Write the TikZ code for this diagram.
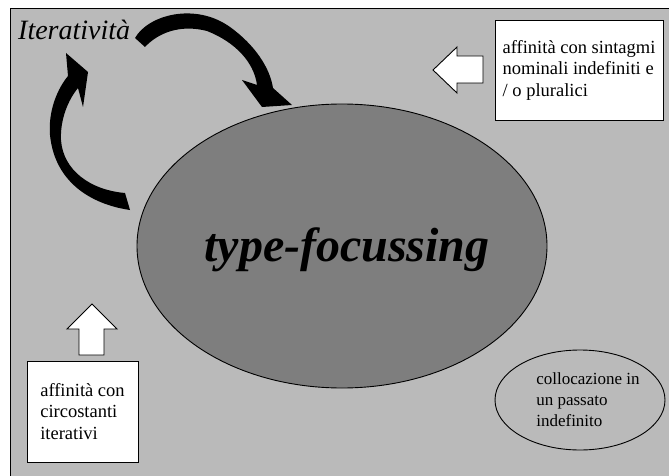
\documentclass[tikz,border=0pt]{standalone}
\usepackage{fontspec}
\setmainfont{Liberation Serif}
\usetikzlibrary{shapes.geometric}
\definecolor{bggray}{RGB}{186,186,186}
\definecolor{ellgray}{RGB}{126,126,126}
\begin{document}
\begin{tikzpicture}[x=1pt,y=-1pt,
			every node/.style = {align=left, inner sep=0pt},
			textbox/.style = {draw, fill=white, line width=0.9pt},
			bigell/.style = {ellipse, draw, line width=0.9pt},
			txt/.style = {font=\fontsize{18.5}{21.5}\selectfont},
			blockarrow/.style = {draw, fill=white, line width=0.9pt, line join=miter}]

			\useasboundingbox (0,0) rectangle (669,476);
			\fill[white] (0,0) rectangle (669,476);
			\filldraw[fill=bggray, line width=0.9pt] (10,8) rectangle (675,482);

			% centre
			\node[bigell, fill=ellgray, minimum width=410pt, minimum height=284pt] (focus) at (342,246) {};
			\node[font=\fontsize{48}{52}\selectfont\bfseries\itshape] (focuslbl) at (347,250) {type-focussing};

			\node[anchor=base west, font=\fontsize{28}{30}\selectfont\itshape] (iter) at (18,40) {Iteratività};

			\node[textbox, txt, minimum width=168pt, minimum height=100pt] (sint) at (579,70)
				{affinità con sintagmi\\nominali indefiniti e\\/ o pluralici};
			\node[textbox, txt, minimum width=111pt, minimum height=101pt] (circ) at (82.5,411.5)
				{affinità con\\circostanti\\iterativi};
			\node[bigell, minimum width=170pt, minimum height=100pt] (pass) at (580,400) {};
			\node[font=\fontsize{17}{21}\selectfont] (passlbl) at ([xshift=8pt]pass.center)
				{collocazione in\\un passato\\indefinito};

			% white arrows
			\draw[blockarrow] (433,70) -- (457,47) -- (457,56) -- (483,56) -- (483,83) -- (457,83) -- (457,93) -- cycle;
			\draw[blockarrow] (92,304) -- (117,329) -- (104,329) -- (104,355) -- (79,355) -- (79,329) -- (67,329) -- cycle;

			% black curved arrows
			\fill (135,38) .. controls (148,15) and (195,2) .. (230,27)
				.. controls (255,45) and (270,68) .. (273,88) -- (292,105) -- (262,107) -- (242,80) -- (257,85)
				.. controls (254,62) and (235,42) .. (207,31)
				.. controls (180,24) and (158,33) .. (145,47) -- cycle;
			\fill (130,210) .. controls (95,205) and (55,185) .. (50,135)
				.. controls (48,110) and (58,88) .. (68,76) -- (66,53) -- (88,72) -- (83,107) -- (78,88)
				.. controls (68,100) and (60,120) .. (61,140)
				.. controls (63,170) and (90,190) .. (125,193) -- cycle;
\end{tikzpicture}
\end{document}
